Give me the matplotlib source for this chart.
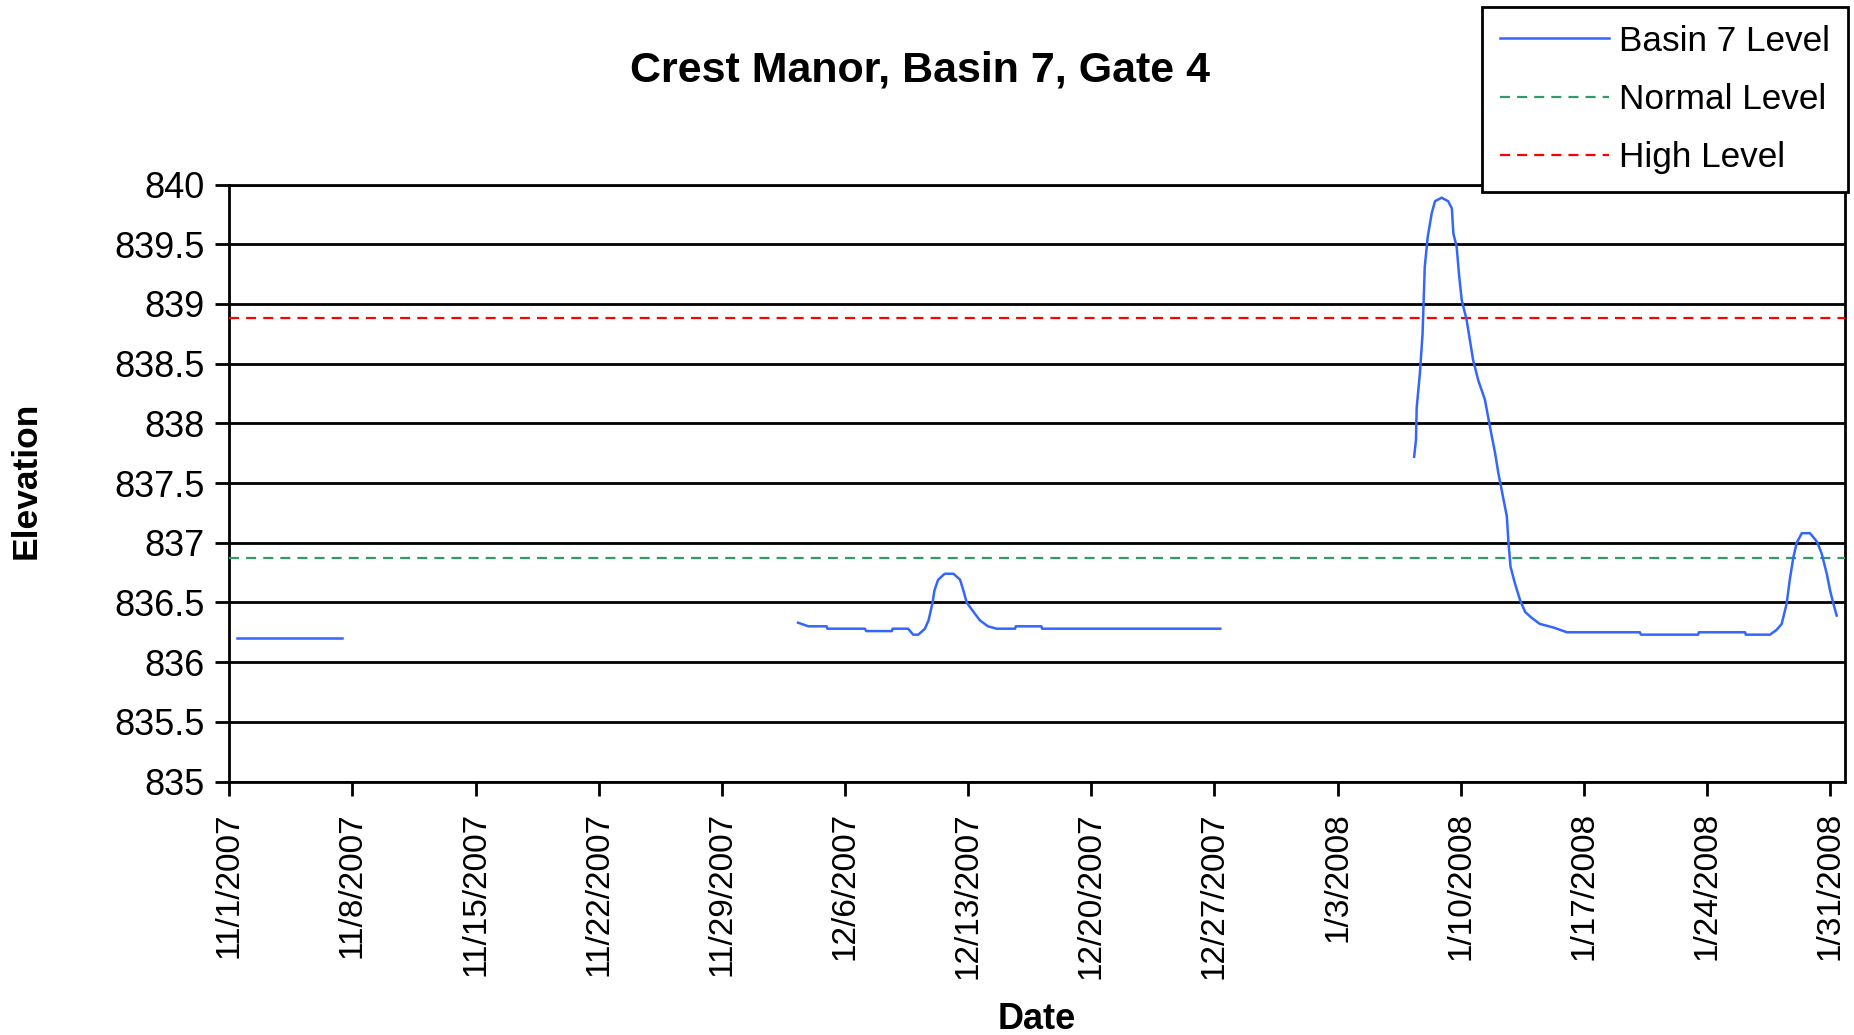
import numpy as np
import pandas as pd
import matplotlib
matplotlib.use("Agg")
import matplotlib.pyplot as plt

plt.rcParams['font.family'] = ['Liberation Sans', 'DejaVu Sans']

# basin 7 readings (gaps = no data)
times_1 = ['2007-11-01 10:00', '2007-11-04 10:00', '2007-11-07 10:00']
level_1 = [836.20, 836.20, 836.20]

times_2 = ['2007-12-03 08:00', '2007-12-03 22:00', '2007-12-04 23:00', '2007-12-05 00:00',
           '2007-12-07 03:00', '2007-12-07 05:00', '2007-12-08 16:00', '2007-12-08 17:00',
           '2007-12-09 14:00', '2007-12-09 21:00', '2007-12-10 04:00', '2007-12-10 13:00',
           '2007-12-10 18:00', '2007-12-10 23:30', '2007-12-11 02:00', '2007-12-11 07:00',
           '2007-12-11 16:00', '2007-12-12 04:00', '2007-12-12 13:00', '2007-12-12 17:30',
           '2007-12-12 22:00', '2007-12-13 05:00', '2007-12-13 16:00', '2007-12-14 03:00',
           '2007-12-14 15:00', '2007-12-15 16:00', '2007-12-15 17:00', '2007-12-17 04:00',
           '2007-12-17 05:00', '2007-12-27 08:00']
level_2 = [836.33, 836.30, 836.30, 836.28,
           836.28, 836.26, 836.26, 836.28,
           836.28, 836.23, 836.23, 836.28,
           836.35, 836.50, 836.60, 836.69,
           836.74, 836.74, 836.69, 836.60,
           836.50, 836.44, 836.35, 836.30,
           836.28, 836.28, 836.30, 836.30,
           836.28, 836.28]

times_3 = ['2008-01-07 08:30', '2008-01-07 11:00', '2008-01-07 12:00', '2008-01-07 16:30',
           '2008-01-07 20:00', '2008-01-07 23:00', '2008-01-08 03:00', '2008-01-08 08:30',
           '2008-01-08 13:00', '2008-01-08 22:00', '2008-01-09 07:00', '2008-01-09 12:00',
           '2008-01-09 14:00', '2008-01-09 18:30', '2008-01-09 22:00', '2008-01-10 01:30',
           '2008-01-10 08:00', '2008-01-10 12:30', '2008-01-10 17:00', '2008-01-11 00:00',
           '2008-01-11 09:00', '2008-01-11 16:00', '2008-01-11 23:00', '2008-01-12 03:30',
           '2008-01-12 08:00', '2008-01-12 10:30', '2008-01-12 15:00', '2008-01-12 17:00',
           '2008-01-12 20:00', '2008-01-13 02:00', '2008-01-13 09:00', '2008-01-13 16:00',
           '2008-01-14 01:00', '2008-01-14 12:00', '2008-01-15 06:30', '2008-01-16 01:00',
           '2008-01-20 04:30', '2008-01-20 06:00', '2008-01-23 12:00', '2008-01-23 13:00',
           '2008-01-26 04:00', '2008-01-26 05:00', '2008-01-27 14:00', '2008-01-27 23:00',
           '2008-01-28 06:00', '2008-01-28 12:45', '2008-01-28 17:00', '2008-01-28 22:00',
           '2008-01-29 02:30', '2008-01-29 09:30', '2008-01-29 20:30', '2008-01-30 06:00',
           '2008-01-30 12:30', '2008-01-30 19:30', '2008-01-31 00:00', '2008-01-31 04:30',
           '2008-01-31 09:00']
level_3 = [837.72, 837.86, 838.13, 838.43,
           838.75, 839.31, 839.56, 839.76,
           839.86, 839.89, 839.86, 839.80,
           839.59, 839.48, 839.23, 839.03,
           838.87, 838.70, 838.53, 838.36,
           838.20, 837.97, 837.75, 837.58,
           837.44, 837.36, 837.22, 837.02,
           836.80, 836.66, 836.52, 836.42,
           836.37, 836.32, 836.29, 836.25,
           836.25, 836.23, 836.23, 836.25,
           836.25, 836.23, 836.23, 836.27,
           836.32, 836.49, 836.69, 836.88,
           837.00, 837.08, 837.08, 837.01,
           836.91, 836.74, 836.60, 836.49,
           836.39]

normal_level = 836.87
high_level = 838.88

start = pd.Timestamp('2007-11-01')
end = pd.Timestamp('2008-01-31 20:00')

fig = plt.figure(figsize=(18.54, 10.35), dpi=100)
ax = fig.add_axes([0.1237, 0.2449, 0.995 - 0.1237, 0.8217 - 0.2449])

blue = '#3366ff'
first = True
for t, v in [(times_1, level_1), (times_2, level_2), (times_3, level_3)]:
    ax.plot(pd.to_datetime(t), v, color=blue, lw=1.8,
            label='Basin 7 Level' if first else None, zorder=4)
    first = False

ax.axhline(normal_level, color='#339966', lw=1.6, dashes=(4.5, 3.2), label='Normal Level', zorder=3)
ax.axhline(high_level, color='#ff0000', lw=1.6, dashes=(4.5, 3.2), label='High Level', zorder=3)

ax.set_xlim(start, end)
ax.set_ylim(835, 840)

yt = np.arange(835, 840.01, 0.5)
ax.set_yticks(yt)
ax.set_yticklabels([f'{y:g}' for y in yt])
ax.yaxis.grid(True, color='black', lw=2)

xt = pd.date_range(start, '2008-01-31', freq='7D')
ax.set_xticks(xt)
ax.set_xticklabels([f'{d.month}/{d.day}/{d.year}' for d in xt], rotation=90)

ax.tick_params(axis='both', width=2, length=10, direction='out', color='black')
ax.tick_params(axis='x', labelsize=24, pad=12)
ax.tick_params(axis='y', labelsize=26, pad=8)
for s in ax.spines.values():
    s.set_linewidth(2)
    s.set_color('black')

fig.text(0.496, 0.932, 'Crest Manor, Basin 7, Gate 4', ha='center', va='center',
         fontsize=31, fontweight='bold')
fig.text(0.559, 0.015, 'Date', ha='center', va='center', fontsize=26, fontweight='bold')
fig.text(0.014, 0.536, 'Elevation', ha='center', va='center', rotation=90,
         fontsize=25.5, fontweight='bold')

leg = fig.legend(loc='upper right', bbox_to_anchor=(1848 / 1854, 1 - 7 / 1035),
                 fontsize=25.3, frameon=True, fancybox=False, framealpha=1,
                 handlelength=3.1, handletextpad=0.3, borderpad=0.5,
                 labelspacing=0.72, borderaxespad=0)
leg.get_frame().set_edgecolor('black')
leg.get_frame().set_linewidth(2)

fig.savefig('out.png', dpi=100)
